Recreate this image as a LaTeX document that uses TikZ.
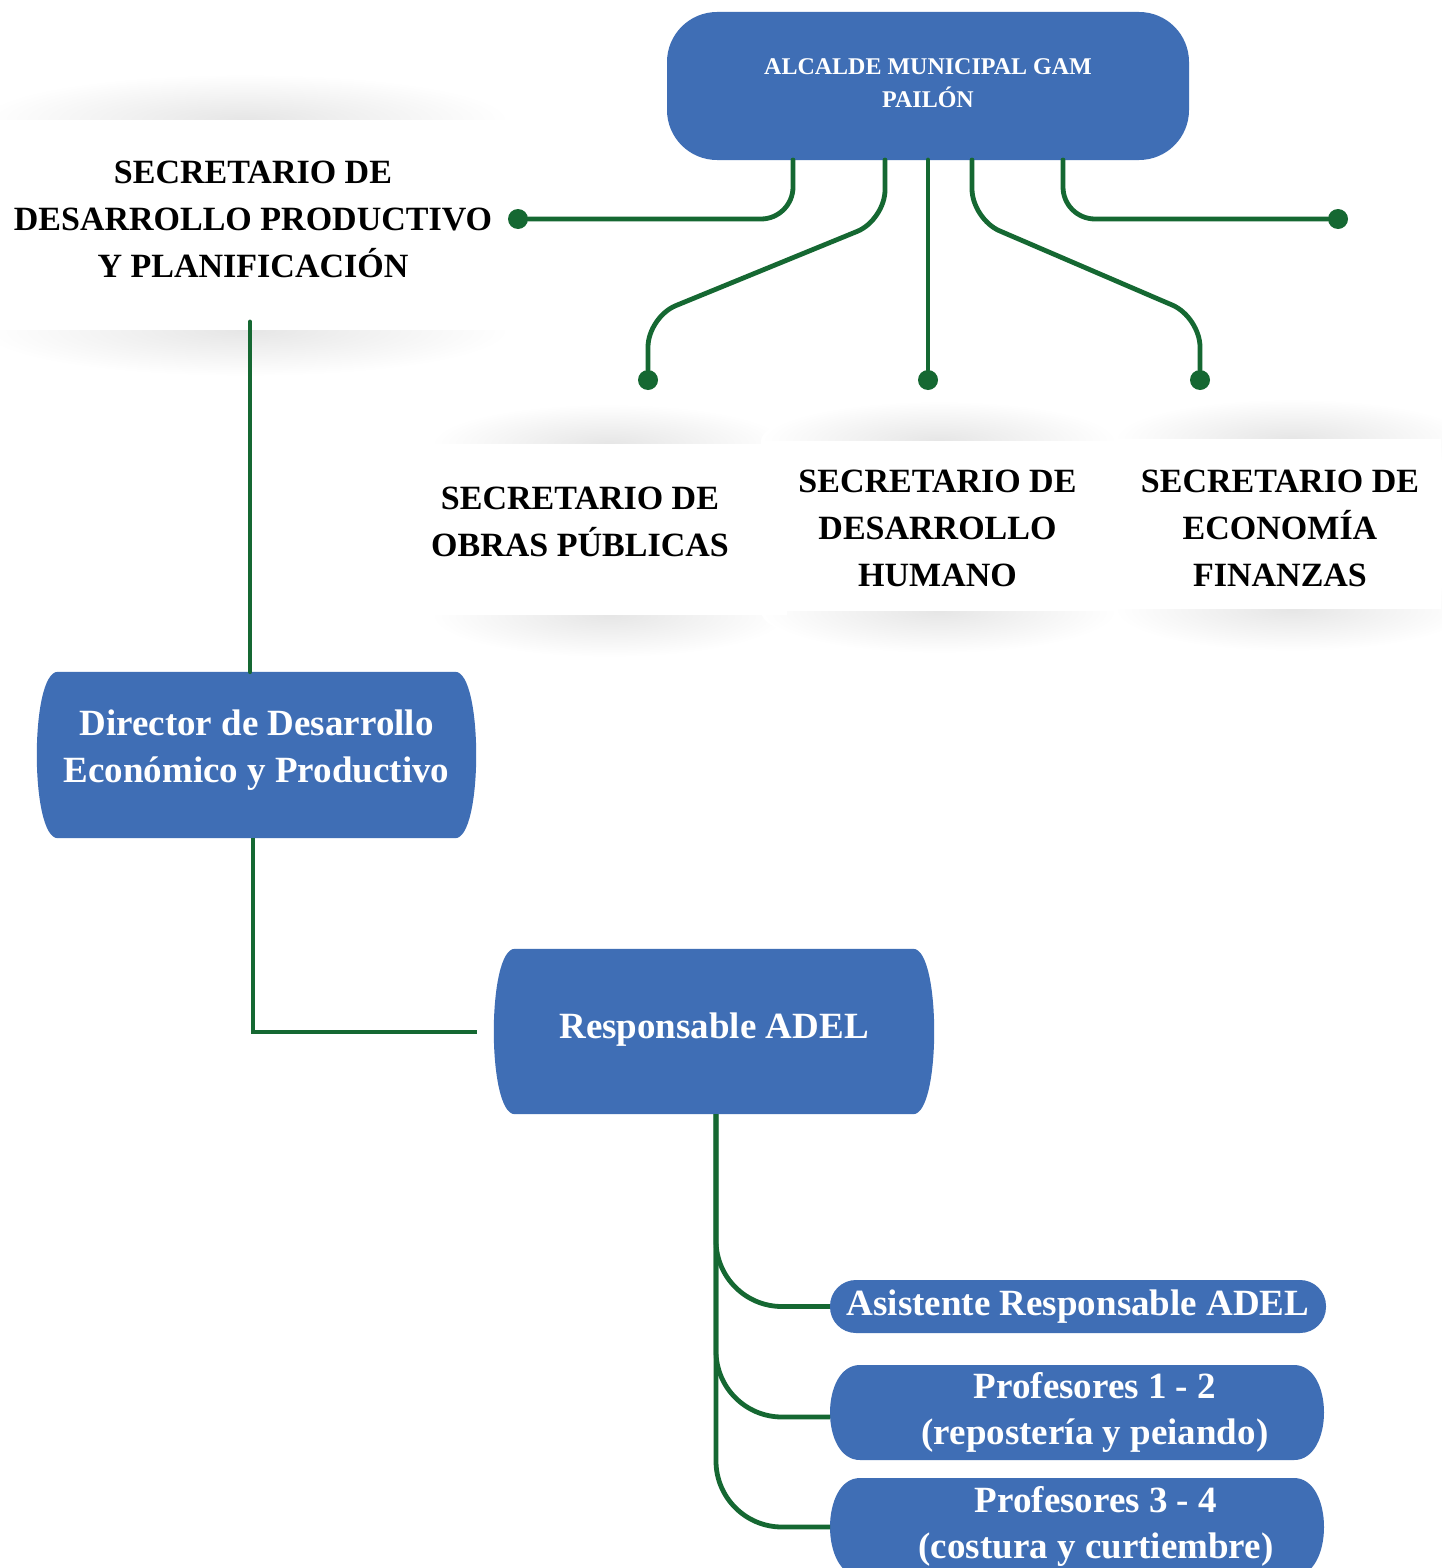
\documentclass[tikz,border=0pt]{standalone}
\usepackage{fontspec}
\setmainfont{Liberation Serif}
\usetikzlibrary{backgrounds}
\definecolor{boxblue}{RGB}{63,110,181}
\definecolor{lineg}{RGB}{21,104,50}
\newcommand\bulgefill[2]{%
  \fill[boxblue] ([xshift=#2]#1.north west) -- ([xshift=-#2]#1.north east)
  .. controls ([xshift=#2/3]#1.north east) and ([xshift=#2/3]#1.south east) .. ([xshift=-#2]#1.south east)
  -- ([xshift=#2]#1.south west)
  .. controls ([xshift=-#2/3]#1.south west) and ([xshift=-#2/3]#1.north west) .. cycle;}
\begin{document}
\begin{tikzpicture}[x=1pt,y=-1pt,
  conn/.style={draw=lineg, line width=4.8pt, line cap=round},
  dotn/.style={circle, fill=lineg, inner sep=0pt, minimum size=20pt},
  btxt/.style={font=\fontsize{34}{47}\selectfont\bfseries, align=center, text=black, inner sep=0pt},
  wtxt/.style={font=\fontsize{37}{47}\selectfont\bfseries, align=center, text=white, inner sep=0pt},
  holder/.style={inner sep=0pt, outer sep=0pt},
  shadowfx/.style={inner color=black!10, outer color=white}]
\useasboundingbox (0,0) rectangle (1441,1568);
\clip (0,0) rectangle (1441,1568);

\begin{pgfonlayer}{background}
  \fill[white] (0,0) rectangle (1441,1568);
  % soft shadows above and below the white cards
  \shade[shadowfx] (245,120) ellipse [x radius=265pt, y radius=46pt];
  \shade[shadowfx] (245,330) ellipse [x radius=265pt, y radius=46pt];
  \shade[shadowfx] (609,444) ellipse [x radius=178pt, y radius=40pt];
  \shade[shadowfx] (609,615) ellipse [x radius=178pt, y radius=42pt];
  \shade[shadowfx] (939,441) ellipse [x radius=178pt, y radius=40pt];
  \shade[shadowfx] (939,611) ellipse [x radius=178pt, y radius=42pt];
  \shade[shadowfx] (1292,439) ellipse [x radius=178pt, y radius=40pt];
  \shade[shadowfx] (1292,609) ellipse [x radius=178pt, y radius=42pt];
  \fill[white] (0,120) rectangle (510,330);
  \fill[white] (431,444) rectangle (787,615);
  \fill[white] (761,441) rectangle (1117,611);
  \fill[white] (1114,439) rectangle (1441,609);
\end{pgfonlayer}

% top box
\node[holder, fill=boxblue, rounded corners=50pt, minimum width=522pt, minimum height=148pt,
      font=\fontsize{24}{33}\selectfont\bfseries, text=white, align=center, text depth=5pt]
  (alc) at (928,86) {ALCALDE MUNICIPAL GAM\\PAILÓN};

% secretaries
\node[btxt] (sec1) at (253,219) {SECRETARIO DE\\DESARROLLO PRODUCTIVO\\Y PLANIFICACIÓN};
\node[btxt] (sec2) at (580,522) {SECRETARIO DE\\OBRAS PÚBLICAS};
\node[btxt] (sec3) at (937.5,528) {SECRETARIO DE\\DESARROLLO\\HUMANO};
\node[btxt] (sec4) at (1280,528) {SECRETARIO DE\\ECONOMÍA\\FINANZAS};

% dots
\node[dotn] (d1) at (518,219) {};
\node[dotn] (d2) at (648,380) {};
\node[dotn] (d3) at (928,380) {};
\node[dotn] (d4) at (1200,380) {};
\node[dotn] (d5) at (1338,219) {};
\coordinate (s1end) at (250,322);

% blue boxes
\node[wtxt, minimum width=439pt, minimum height=166pt, text depth=18pt]
  (dir) at (256.5,755) {Director de Desarrollo\\Económico y Productivo};
\node[wtxt, minimum width=440pt, minimum height=165pt, text depth=12pt]
  (resp) at (714,1031.5) {Responsable ADEL};
\node[wtxt, fill=boxblue, rounded corners=26pt, minimum width=496pt, minimum height=53pt, text depth=8pt]
  (asis) at (1078,1306.5) {Asistente Responsable ADEL};
\node[holder, minimum width=494pt, minimum height=95pt] (prof12) at (1077,1412.5) {};
\node[holder, minimum width=494pt, minimum height=98pt] (prof34) at (1077,1527) {};
\node[wtxt, font=\fontsize{37}{46}\selectfont\bfseries] (prof12t) at (1095,1412.5)
  {Profesores 1 - 2\\(repostería y peiando)};
\node[wtxt, font=\fontsize{37}{46}\selectfont\bfseries] (prof34t) at (1096,1526.5)
  {Profesores 3 - 4\\(costura y curtiembre)};

\begin{pgfonlayer}{background}
  \bulgefill{dir}{21pt}
  \bulgefill{resp}{21pt}
  \bulgefill{prof12}{30pt}
  \bulgefill{prof34}{30pt}
\end{pgfonlayer}

% connectors from the mayor
\draw[conn, rounded corners=32pt] ([xshift=-135pt]alc.south) |- (d1);
\draw[conn, rounded corners=30pt] ([xshift=-43pt]alc.south) -- (885,220) -- (648,317) -- (d2);
\draw[conn] (alc.south) -- (d3);
\draw[conn, rounded corners=30pt] ([xshift=44pt]alc.south) -- (972,219) -- (1200,317) -- (d4);
\draw[conn, rounded corners=32pt] ([xshift=135pt]alc.south) |- (d5);

% left chain
\draw[conn] (s1end) -- (s1end |- dir.north);
\draw[conn, line width=4pt, line cap=butt] ([xshift=-3.5pt]dir.south) |- ([xshift=-17pt]resp.west);

% children of Responsable ADEL
\draw[conn, rounded corners=66pt, line cap=butt] ([xshift=2pt]resp.south) |- (asis.west);
\draw[conn, rounded corners=66pt, line cap=butt] ([xshift=2pt]resp.south) |- ([yshift=-4.5pt]prof12.west);
\draw[conn, rounded corners=66pt, line cap=butt] ([xshift=2pt]resp.south) |- (prof34.west);
\end{tikzpicture}
\end{document}
